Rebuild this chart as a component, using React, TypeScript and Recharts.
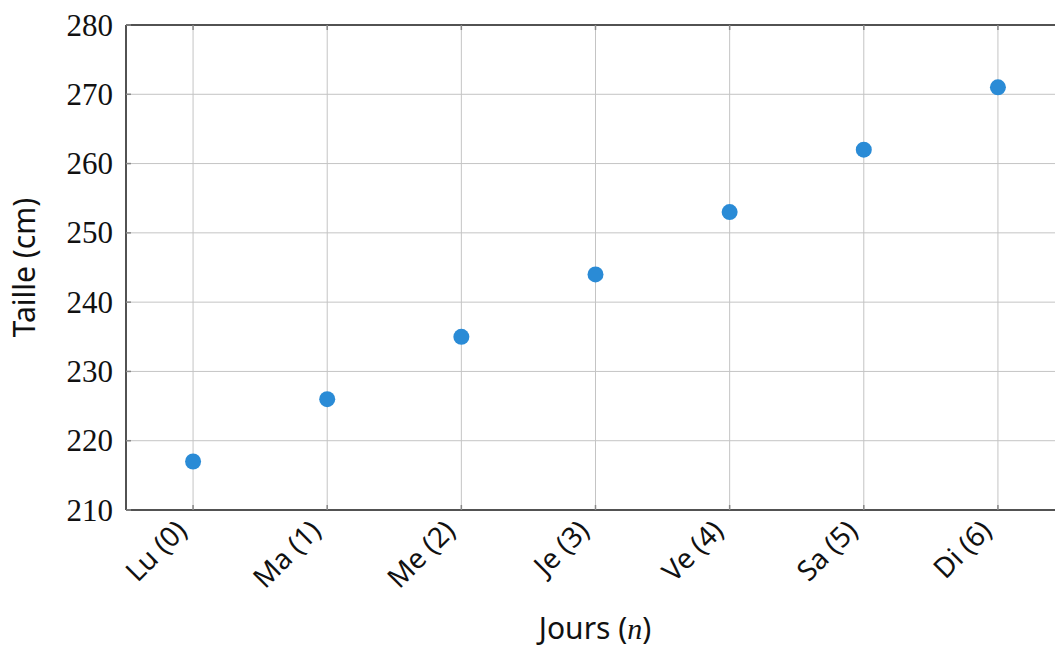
import React from "react";
import {
  ScatterChart,
  Scatter,
  XAxis,
  YAxis,
  CartesianGrid,
  ReferenceLine,
  Label,
} from "recharts";

const dayLabels = ["Lu (0)", "Ma (1)", "Me (2)", "Je (3)", "Ve (4)", "Sa (5)", "Di (6)"];
const dayIndex = [0, 1, 2, 3, 4, 5, 6];
const heights = [217, 226, 235, 244, 253, 262, 271];
const yTicks = [210, 220, 230, 240, 250, 260, 270, 280];

const data = dayIndex.map((n, i) => ({ n, h: heights[i] }));

const SANS = "'Noto Sans', 'DejaVu Sans', sans-serif";
const SERIF = "'Liberation Serif', 'DejaVu Serif', serif";
const PLOT_H = 485;

const XTick = (props: any) => {
  const { x, y, payload } = props;
  const ax = x - 10;
  const ay = y + 17;
  return (
    <g>
      <line x1={x} y1={y} x2={x} y2={y - 5} stroke="#888" strokeWidth={1.5} />
      <line x1={x} y1={y - PLOT_H} x2={x} y2={y - PLOT_H + 5} stroke="#888" strokeWidth={1.5} />
      <text
        x={ax}
        y={ay}
        textAnchor="end"
        dominantBaseline="middle"
        transform={`rotate(-45, ${ax}, ${ay})`}
        fontFamily={SANS}
        fontSize={28}
        fill="#111"
      >
        {dayLabels[payload.value]}
      </text>
    </g>
  );
};

const YTick = (props: any) => {
  const { x, y, payload } = props;
  return (
    <g>
      <line x1={x} y1={y} x2={x + 5} y2={y} stroke="#888" strokeWidth={1.5} />
      <text
        x={x - 13}
        y={y}
        textAnchor="end"
        dominantBaseline="central"
        fontFamily={SERIF}
        fontSize={31}
        fill="#111"
      >
        {payload.value}
      </text>
    </g>
  );
};

export default function App() {
  return (
    <div style={{ position: "absolute", left: 0, top: 0, width: 1055, height: 648, overflow: "hidden", background: "white" }}>
      <ScatterChart width={1070} height={648} margin={{ top: 25, right: 5, left: 0, bottom: 0 }}>
        <CartesianGrid stroke="#c4c4c4" strokeWidth={1} />
        <XAxis
          type="number"
          dataKey="n"
          domain={[-0.5, 6.5]}
          ticks={dayIndex}
          tickSize={0}
          tickMargin={0}
          tickLine={false}
          tick={<XTick />}
          height={138}
          stroke="#222"
          strokeWidth={1.5}
          interval={0}
        >
          <Label
            content={(p: any) => {
              const vb = p.viewBox;
              return (
                <text x={595} y={vb.y + 129} textAnchor="middle" fontFamily={SANS} fontSize={30} fill="#111">
                  Jours (
                  <tspan fontFamily={SERIF} fontStyle="italic">n</tspan>)
                </text>
              );
            }}
          />
        </XAxis>
        <YAxis
          type="number"
          dataKey="h"
          domain={[210, 280]}
          ticks={yTicks}
          tickSize={0}
          tickMargin={0}
          tickLine={false}
          tick={<YTick />}
          width={126}
          stroke="#222"
          strokeWidth={1.5}
          interval={0}
        >
          <Label
            content={(p: any) => {
              const vb = p.viewBox;
              const cy = vb.y + vb.height / 2;
              return (
                <text
                  x={35}
                  y={cy}
                  textAnchor="middle"
                  transform={`rotate(-90, 35, ${cy})`}
                  fontFamily={SANS}
                  fontSize={30}
                  fill="#111"
                >
                  Taille (cm)
                </text>
              );
            }}
          />
        </YAxis>
        <ReferenceLine y={280} stroke="#222" strokeWidth={1.5} />
        <Scatter
          data={data}
          isAnimationActive={false}
          shape={(p: any) => <circle cx={p.cx} cy={p.cy} r={8} fill="#2a8bd6" />}
        />
      </ScatterChart>
    </div>
  );
}
